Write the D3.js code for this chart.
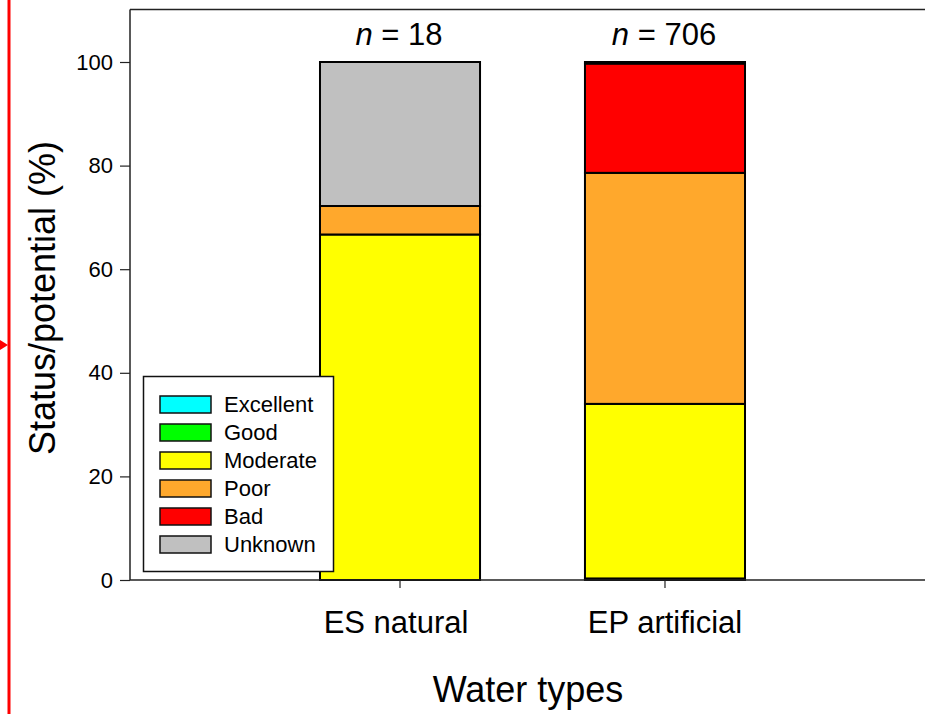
<!DOCTYPE html>
<html><head><meta charset="utf-8">
<script src="https://cdn.jsdelivr.net/npm/d3@7"></script>
<style>body{margin:0;background:#fff}svg{display:block}text{font-family:"Liberation Sans",Arial,sans-serif;fill:#000}</style>
</head><body>
<svg id="chart" width="925" height="714"></svg>
<script>
const categories = ["ES natural", "EP artificial"];
const nLabels = ["18", "706"];
const classes = ["Excellent", "Good", "Moderate", "Poor", "Bad", "Unknown"];
const colors = ["#00FFFF", "#00FF00", "#FFFF00", "#FFA82C", "#FF0000", "#C0C0C0"];
const excellent = [0, 0];
const good = [0, 0.3];
const moderate = [66.7, 33.7];
const poor = [5.5, 44.6];
const bad = [0, 21.1];
const unknown = [27.8, 0.3];
const yTicks = [0, 20, 40, 60, 80, 100];

(function () {
const series = [excellent, good, moderate, poor, bad, unknown];
const rows = categories.map((c, i) => {
  const r = {cat: c};
  classes.forEach((k, j) => r[k] = series[j][i]);
  return r;
});
const stacked = d3.stack().keys(classes)(rows);

const svg = d3.select("#chart");
const pL = 130, pT = 9.5, pB = 580, pR = 935;
const x = d3.scaleBand().domain(categories).range([pL, pR]).paddingInner(0.396).paddingOuter(0.717);
const y = d3.scaleLinear().domain([0, 100]).range([pB, 62]);

// decorative red margin line
svg.append("line").attr("x1", 9).attr("x2", 9).attr("y1", 0).attr("y2", 714)
  .attr("stroke", "#f00").attr("stroke-width", 3);
svg.append("path").attr("d", "M0,340 L8,345 L0,350 Z").attr("fill", "#f00");

// bars
stacked.forEach((s, j) => {
  svg.append("g").selectAll("rect").data(s.filter(d => d[1] - d[0] > 0)).join("rect")
    .attr("x", d => x(d.data.cat))
    .attr("width", x.bandwidth())
    .attr("y", d => y(d[1]))
    .attr("height", d => y(d[0]) - y(d[1]))
    .attr("fill", colors[j])
    .attr("stroke", "#000").attr("stroke-width", 2);
});

// frame line top
svg.append("line").attr("x1", pL).attr("x2", pR).attr("y1", pT).attr("y2", pT)
  .attr("stroke", "#222").attr("stroke-width", 1.5);

// axes
const yAxis = svg.append("g").attr("transform", `translate(${pL},0)`)
  .call(d3.axisLeft(y).tickValues(yTicks).tickSize(10).tickPadding(7).tickSizeOuter(0));
yAxis.select(".domain").remove();
svg.append("line").attr("x1", pL).attr("x2", pL).attr("y1", pT).attr("y2", pB)
  .attr("stroke", "#222").attr("stroke-width", 1.5);
yAxis.selectAll("text").attr("font-size", 22).style("font-family", '"Liberation Sans",Arial,sans-serif');
yAxis.selectAll(".tick line").attr("stroke", "#222").attr("stroke-width", 1.2);

const xAxis = svg.append("g").attr("transform", `translate(0,${pB})`)
  .call(d3.axisBottom(x).tickSize(8).tickSizeOuter(0).tickFormat(() => ""));
xAxis.select(".domain").remove();
xAxis.selectAll(".tick line").attr("stroke", "#222").attr("stroke-width", 1.2);
svg.append("line").attr("x1", pL).attr("x2", pR).attr("y1", pB).attr("y2", pB)
  .attr("stroke", "#222").attr("stroke-width", 1.5);

svg.append("g").selectAll("text").data(categories).join("text")
  .attr("x", (d, i) => x(d) + x.bandwidth() / 2 - (i === 0 ? 4 : 0)).attr("y", 633)
  .attr("text-anchor", "middle").attr("font-size", 31).text(d => d);

// n labels
svg.append("g").selectAll("text").data(categories).join("text")
  .attr("x", d => x(d) + x.bandwidth() / 2 - 1).attr("y", 45)
  .attr("text-anchor", "middle").attr("font-size", 31)
  .each(function (d, i) {
    const t = d3.select(this);
    t.append("tspan").attr("font-style", "italic").text("n");
    t.append("tspan").text(" = " + nLabels[i]);
  });

// axis titles
svg.append("text").attr("x", 528).attr("y", 702).attr("text-anchor", "middle")
  .attr("font-size", 36).text("Water types");
svg.append("text").attr("transform", "translate(55,298) rotate(-90)").attr("text-anchor", "middle")
  .attr("font-size", 36).text("Status/potential (%)");

// legend
const lg = svg.append("g");
lg.append("rect").attr("x", 143.5).attr("y", 376.5).attr("width", 190).attr("height", 195)
  .attr("fill", "#fff").attr("stroke", "#111").attr("stroke-width", 1.5);
classes.forEach((k, j) => {
  const yy = 396 + j * 28;
  lg.append("rect").attr("x", 160).attr("y", yy).attr("width", 51).attr("height", 17)
    .attr("fill", colors[j]).attr("stroke", "#111").attr("stroke-width", 1.5);
  lg.append("text").attr("x", 224).attr("y", yy + 8.5).attr("dy", "0.35em")
    .attr("font-size", 22).text(k);
});
})();
</script>
</body></html>
